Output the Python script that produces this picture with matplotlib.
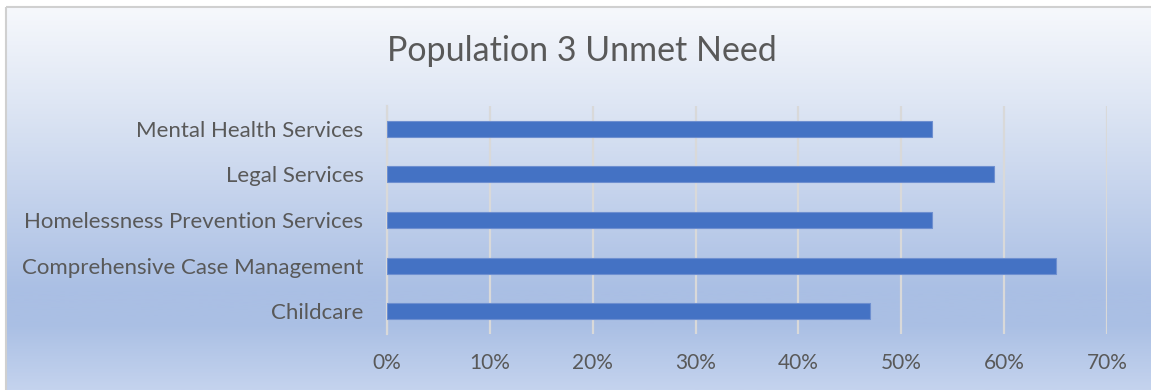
import numpy as np
import matplotlib.pyplot as plt
from matplotlib.colors import LinearSegmentedColormap
from matplotlib.patches import Rectangle
from matplotlib.ticker import PercentFormatter

plt.rcParams['font.family'] = ['Lato', 'DejaVu Sans']

categories = ['Childcare', 'Comprehensive Case Management',
              'Homelessness Prevention Services', 'Legal Services',
              'Mental Health Services']
unmet_need = [0.47, 0.65, 0.53, 0.59, 0.53]
x_ticks = [0.0, 0.1, 0.2, 0.3, 0.4, 0.5, 0.6, 0.7]

W, H = 1151, 390
fig = plt.figure(figsize=(W / 100, H / 100), dpi=100)
fig.patch.set_facecolor('white')

# gradient chart area behind everything, with thin gray frame
bg = fig.add_axes([0, 0, 1, 1], zorder=0)
bg.set_xlim(0, W)
bg.set_ylim(H, 0)
bg.axis('off')
cmap = LinearSegmentedColormap.from_list(
    'bg', [(0.0, '#F6F8FC'), (0.25, '#DEE6F4'), (0.74, '#AABFE4'),
           (0.83, '#AABFE4'), (1.0, '#C4D3EE')])
grad = np.linspace(0, 1, 400).reshape(-1, 1)
bg.imshow(grad, cmap=cmap, aspect='auto', extent=[7, W, H, 8])
bg.add_patch(Rectangle((6, 7), W, H, fill=False, edgecolor='#D0D0D0', lw=1.5))

ax = fig.add_axes([387 / W, 1 - 334 / H, 720 / W, 228 / H], zorder=1)
ax.patch.set_alpha(0)
y = np.arange(len(categories))
ax.barh(y, unmet_need, height=0.35, color='#4472C4', edgecolor='#6E8FD0',
        linewidth=0.8, zorder=3)
ax.set_xlim(0, 0.7)
ax.set_ylim(-0.5, len(categories) - 0.5)
ax.set_yticks(y)
ax.set_yticklabels(categories)
ax.set_xticks(x_ticks)
ax.xaxis.set_major_formatter(PercentFormatter(1.0, decimals=0))
ax.tick_params(axis='both', length=0, colors='#595959')
ax.tick_params(axis='x', pad=14, labelsize=15)
ax.tick_params(axis='y', pad=17, labelsize=16)
ax.grid(axis='x', color='#D9D9D9', lw=1.6, zorder=1)
for s in ['top', 'right', 'bottom']:
    ax.spines[s].set_visible(False)
ax.spines['left'].set_color('#D9D9D9')
ax.spines['left'].set_linewidth(1.6)

fig.text(582 / W, 1 - 51 / H, 'Population 3 Unmet Need', ha='center',
         va='center', fontsize=24.5, color='#595959')

fig.savefig('out.png', dpi=100)
